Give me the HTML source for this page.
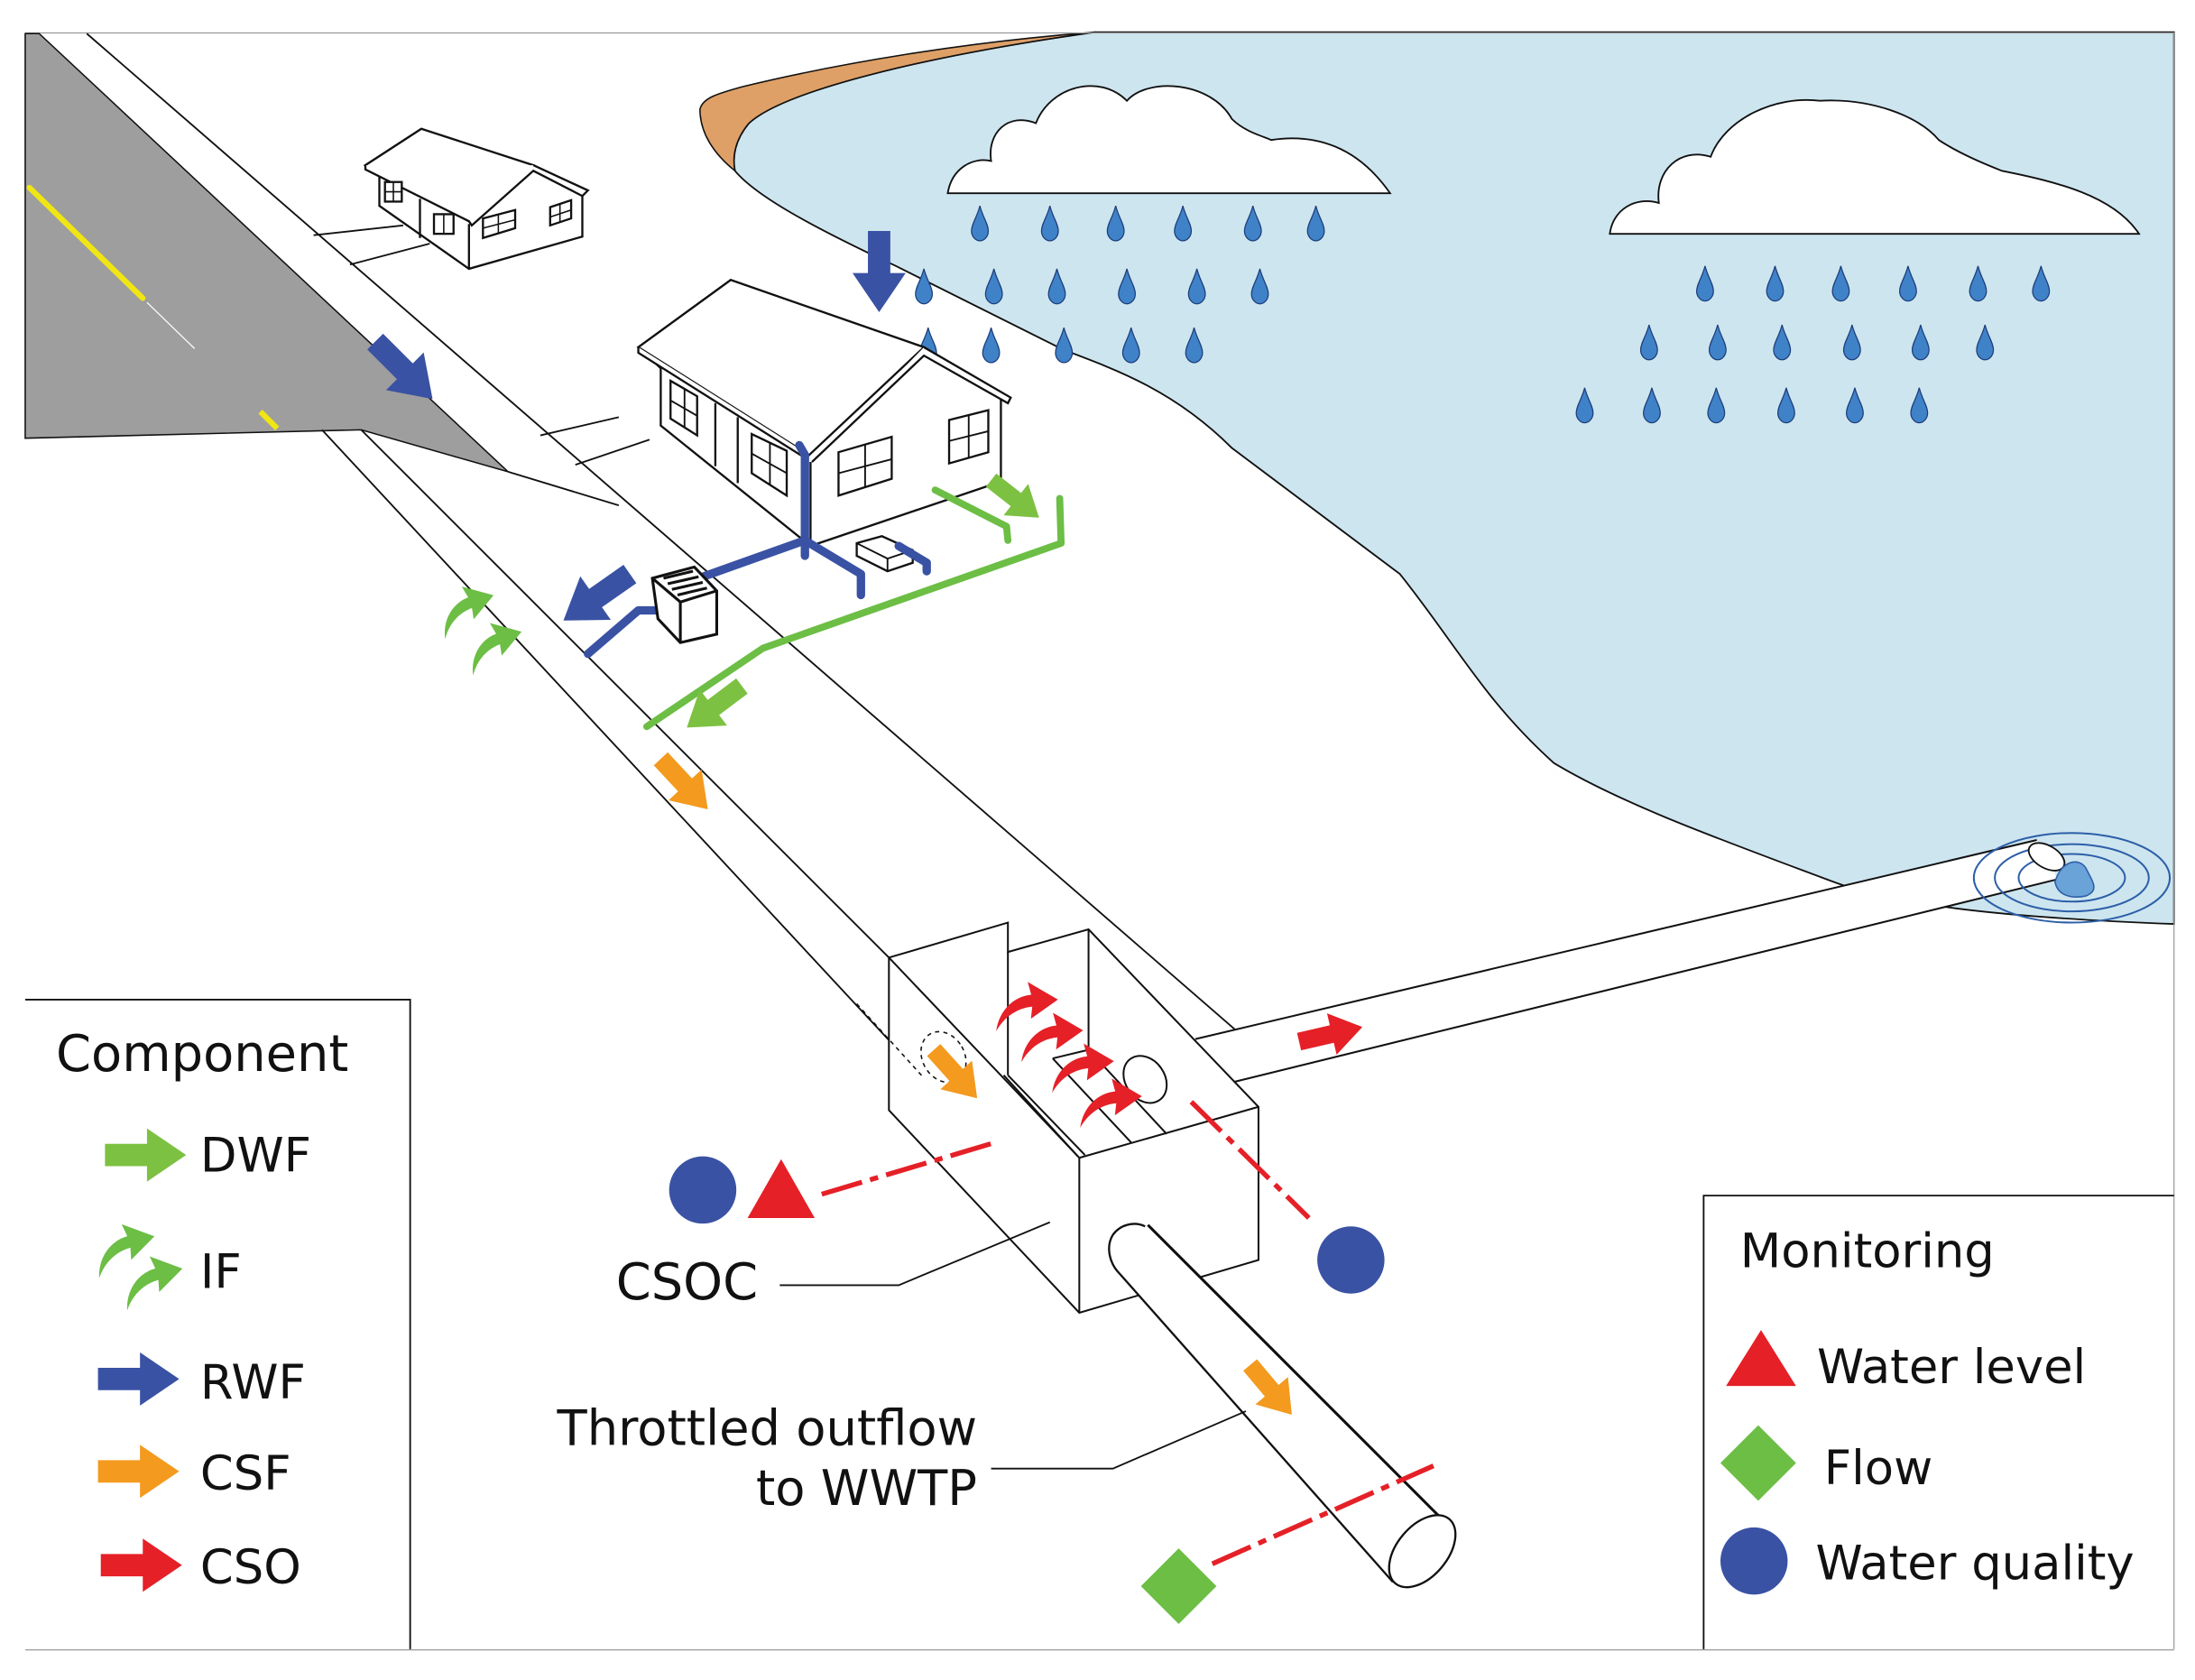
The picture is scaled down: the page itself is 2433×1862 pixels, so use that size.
<!DOCTYPE html>
<html><head><meta charset="utf-8"><style>
html,body{margin:0;padding:0;background:#fff;}
svg{display:block;}
text{font-family:"DejaVu Sans","Liberation Sans",sans-serif;fill:#111;}
</style></head><body>
<svg width="2433" height="1862" viewBox="0 0 1568 1200" xmlns="http://www.w3.org/2000/svg">
<defs>
<path id="arr" d="M0,-8 L30,-8 L30,-19 L58,0 L30,19 L30,8 L0,8 Z"/>
<path id="carr" d="M0,22 C4,4 18,-6 32,-6 L30,-17 L54,0 L30,14 L32,4 C20,4 8,10 0,22 Z"/>
<path id="drop" d="M0,-13 C-2,-5 -6,0 -6,5 C-6,9 -3,12 0,12 C3,12 6,9 6,5 C6,0 2,-5 0,-13 Z" fill="#3f82c8" stroke="#1d3d7a" stroke-width="0.8"/>
</defs>
<rect width="1568" height="1200" fill="#fff"/>
<!-- lake -->
<path d="M525,122 C540,140 580,162 640,190 L760,250 C800,265 840,280 880,320 L1000,410 C1040,460 1060,500 1110,545 C1160,575 1230,600 1310,630 C1350,645 1420,655 1553,660 L1553,23 L782,23 C660,40 560,65 535,88 C525,100 523,112 525,122 Z" fill="#cde5ef" stroke="#111" stroke-width="1.2"/>
<path d="M500,78 C502,70 512,67 530,62 C600,45 690,30 782,23 C660,40 560,65 535,88 C525,100 523,112 525,122 C510,110 500,95 500,78 Z" fill="#dea067" stroke="#111" stroke-width="1"/>
<!-- clouds -->
<path d="M677,138 C680,120 695,112 708,115 C705,95 720,80 740,88 C750,62 785,52 805,72 C820,55 865,58 880,85 C890,95 905,98 908,100 C940,95 970,105 993,138 Z" fill="#fff" stroke="#111" stroke-width="1.2"/>
<path d="M1150,167 C1152,150 1168,140 1185,145 C1182,122 1200,105 1222,112 C1232,85 1268,68 1300,72 C1335,70 1370,82 1385,100 C1400,110 1420,118 1430,122 C1470,130 1510,140 1528,167 Z" fill="#fff" stroke="#111" stroke-width="1.2"/>
<g>
<use href="#drop" x="700" y="160"/><use href="#drop" x="750" y="160"/><use href="#drop" x="797" y="160"/><use href="#drop" x="845" y="160"/><use href="#drop" x="895" y="160"/><use href="#drop" x="940" y="160"/>
<use href="#drop" x="660" y="205"/><use href="#drop" x="710" y="205"/><use href="#drop" x="755" y="205"/><use href="#drop" x="805" y="205"/><use href="#drop" x="855" y="205"/><use href="#drop" x="900" y="205"/>
<use href="#drop" x="615" y="247"/><use href="#drop" x="663" y="247"/><use href="#drop" x="708" y="247"/><use href="#drop" x="760" y="247"/><use href="#drop" x="808" y="247"/><use href="#drop" x="853" y="247"/>
<use href="#drop" x="1218" y="203"/><use href="#drop" x="1268" y="203"/><use href="#drop" x="1315" y="203"/><use href="#drop" x="1363" y="203"/><use href="#drop" x="1413" y="203"/><use href="#drop" x="1458" y="203"/>
<use href="#drop" x="1178" y="245"/><use href="#drop" x="1227" y="245"/><use href="#drop" x="1273" y="245"/><use href="#drop" x="1323" y="245"/><use href="#drop" x="1372" y="245"/><use href="#drop" x="1418" y="245"/>
<use href="#drop" x="1132" y="290"/><use href="#drop" x="1180" y="290"/><use href="#drop" x="1226" y="290"/><use href="#drop" x="1276" y="290"/><use href="#drop" x="1325" y="290"/><use href="#drop" x="1371" y="290"/>
</g>
<!-- frame -->
<line x1="18" y1="23.5" x2="1553" y2="23.5" stroke="#999" stroke-width="0.8"/>
<line x1="1553" y1="23" x2="1553" y2="1178" stroke="#999" stroke-width="0.8"/>
<line x1="18" y1="1178.5" x2="1553" y2="1178.5" stroke="#999" stroke-width="0.8"/>
<!-- road -->
<polygon points="18,24 28,24 363,337 258,307 18,313" fill="#9e9e9e" stroke="#111" stroke-width="1"/>
<line x1="21" y1="134" x2="102" y2="213" stroke="#f0e614" stroke-width="4" stroke-linecap="round"/>
<line x1="105" y1="216" x2="139" y2="249" stroke="#fff" stroke-width="0.8"/>
<line x1="186" y1="294" x2="198" y2="306" stroke="#f0e614" stroke-width="4"/>
<g stroke="#111" stroke-width="1.2" fill="none">
<line x1="62" y1="24" x2="883" y2="736"/>
<line x1="363" y1="337" x2="442" y2="361"/>
<line x1="230" y1="307" x2="635" y2="743"/>
<line x1="258" y1="307" x2="635" y2="684"/>
<line x1="224" y1="168" x2="288" y2="161"/><line x1="250" y1="189" x2="307" y2="174"/>
<line x1="386" y1="311" x2="442" y2="298"/><line x1="411" y1="332" x2="464" y2="314"/>
</g>
<!-- house 1 -->
<g stroke="#111" stroke-width="1.5" fill="#fff">
<polygon points="271,125 271,147 335,192 416,169 416,138 381,120 301,92 261,118"/>
<polygon points="261,118 301,92 381,118 335,158"/>
<polyline points="381,118 420,136 416,140 381,122 337,161 335,158 261,121 261,118" />
<line x1="335" y1="160" x2="335" y2="192"/>
<line x1="300" y1="142" x2="300" y2="170"/>
<rect x="275" y="130" width="12" height="14"/><rect x="310" y="153" width="14" height="14"/>
<polygon points="345,156 368,150 368,163 345,170"/><polygon points="393,148 408,143 408,156 393,161"/>
</g>
<g stroke="#111" stroke-width="1"><line x1="281" y1="130" x2="281" y2="144"/><line x1="275" y1="137" x2="287" y2="137"/><line x1="356" y1="153" x2="356" y2="167"/><line x1="345" y1="163" x2="368" y2="157"/><line x1="400" y1="146" x2="400" y2="159"/><line x1="393" y1="155" x2="408" y2="150"/><line x1="317" y1="153" x2="317" y2="167"/></g>
<!-- house 2 -->
<g stroke="#111" stroke-width="1.5" fill="#fff">
<polygon points="472,263 472,304 579,390 715,344 715,282 660,248 522,200 456,248"/>
<polygon points="456,248 522,200 660,248 578,325"/>
<polyline points="456,248 456,252 575,327 578,325"/>
<polyline points="660,248 722,284 720,288 660,254 580,330"/>
<line x1="579" y1="330" x2="579" y2="390"/>
<line x1="511" y1="288" x2="511" y2="333"/><line x1="527" y1="298" x2="527" y2="345"/>
<polygon points="479,272 498,283 498,311 479,299"/>
<polygon points="537,310 562,322 562,354 537,338"/>
<polygon points="599,323 637,312 637,342 599,354"/>
<polygon points="678,300 706,293 706,323 678,331"/>
<polygon points="612,388 612,397 634,408 652,402 652,393 630,383"/>
</g>
<g stroke="#111" stroke-width="1.2"><line x1="489" y1="278" x2="489" y2="305"/><line x1="479" y1="286" x2="498" y2="297"/><line x1="550" y1="316" x2="550" y2="346"/><line x1="537" y1="324" x2="562" y2="338"/><line x1="618" y1="318" x2="618" y2="348"/><line x1="599" y1="338" x2="637" y2="328"/><line x1="692" y1="296" x2="692" y2="327"/><line x1="678" y1="315" x2="706" y2="308"/><line x1="634" y1="408" x2="634" y2="399"/><line x1="612" y1="388" x2="634" y2="399"/><line x1="634" y1="399" x2="652" y2="393"/></g>
<!-- green pipes -->
<g stroke="#6cbe45" stroke-width="5" fill="none" stroke-linecap="round" stroke-linejoin="round">
<polyline points="462,519 545,463 758,388 757,356"/>
<polyline points="668,350 719,376 720,386"/>
</g>
<!-- blue pipes -->
<g stroke="#3a52a3" stroke-width="6" fill="none" stroke-linecap="round" stroke-linejoin="round">
<polyline points="571,318 575,325 575,397"/>
<polyline points="502,412 575,386 615,410 615,425"/>
<polyline points="642,390 662,402 662,408"/>
<polyline points="483,436 456,436 420,467"/>
</g>
<!-- gully box -->
<g stroke="#111" stroke-width="2" fill="#fff">
<polygon points="466,413 496,405 512,422 512,453 486,459 470,442"/>
<polyline points="466,413 486,430 512,422"/>
<line x1="486" y1="430" x2="486" y2="459"/>
<line x1="474" y1="413" x2="495" y2="408"/><line x1="477" y1="417" x2="499" y2="412"/><line x1="480" y1="421" x2="502" y2="416"/><line x1="484" y1="425" x2="505" y2="420"/>
</g>
<!-- CSOC box -->
<g stroke="#111" stroke-width="1.3" fill="#fff">
<polygon points="881.8,772.7 1470,628 1455,600 853.9,742.2" fill="#fff" stroke="none"/>
<line x1="853.9" y1="742.2" x2="1455" y2="600"/>
<line x1="881.8" y1="772.7" x2="1470" y2="628"/>
<polygon points="635,684 720,659 720,680 777.6,663.8 899,790.6 899,900 771,937.7 635,793"/>
<line x1="720" y1="680" x2="720" y2="768"/>
<line x1="777.6" y1="663.8" x2="777.6" y2="749.8"/>
<line x1="635" y1="684" x2="771" y2="827"/>
<line x1="771" y1="827" x2="899" y2="790.6"/>
<line x1="771" y1="827" x2="771" y2="937.7"/>
<line x1="717" y1="768" x2="770" y2="826"/>
<line x1="720" y1="768" x2="775" y2="825"/>
<line x1="777.6" y1="749.8" x2="833.4" y2="810"/>
<line x1="752" y1="756" x2="808" y2="816"/>
<line x1="752" y1="756" x2="777" y2="750"/>
<ellipse cx="818" cy="771" rx="14" ry="18" transform="rotate(-35 818 771)"/>
</g>
<line x1="612" y1="717" x2="660" y2="770" stroke="#111" stroke-width="1" stroke-dasharray="3,3"/>
<ellipse cx="674" cy="755" rx="15" ry="19" transform="rotate(-30 674 755)" fill="none" stroke="#111" stroke-width="1" stroke-dasharray="3,3"/>
<!-- outlet pipe -->
<g stroke="#111" stroke-width="1.5" fill="#fff">
<path d="M800,910 L995,1130 L1030,1085 L820,875 C805,870 795,880 792,890 C790,900 795,906 800,910 Z" stroke="none"/>
<path d="M800,910 C792,902 790,890 795,882 C800,875 810,872 818,876" fill="none"/>
<line x1="820" y1="875" x2="1030" y2="1085" stroke-width="2"/>
<line x1="800" y1="910" x2="995" y2="1130"/>
<ellipse cx="1016" cy="1108" rx="18" ry="30" transform="rotate(40 1016 1108)"/>
</g>
<!-- lake outlet ripples -->
<g fill="none" stroke="#2d5fa8" stroke-width="1.3">
<ellipse cx="1480" cy="627" rx="70" ry="32"/><ellipse cx="1480" cy="627" rx="55" ry="24"/><ellipse cx="1480" cy="627" rx="38" ry="17"/>
</g>
<ellipse cx="1462" cy="612" rx="8" ry="14" fill="#fff" stroke="#111" stroke-width="1.2" transform="rotate(-60 1462 612)"/>
<path d="M1468,630 C1472,615 1485,612 1490,620 C1495,630 1500,636 1490,640 C1480,642 1470,640 1468,630 Z" fill="#6aa3d8" stroke="#2d5fa8"/>
<!-- leaders -->
<polyline points="557,918 642,918 750,873" fill="none" stroke="#111" stroke-width="1.2"/>
<polyline points="708,1049 795,1049 890,1008" fill="none" stroke="#111" stroke-width="1.2"/>
<!-- red dashes -->
<g stroke="#e52027" stroke-width="3.5" fill="none" stroke-dasharray="30,6,6,6">
<line x1="587" y1="853" x2="711" y2="816"/>
<line x1="851" y1="787" x2="935" y2="870"/>
<line x1="866" y1="1117" x2="1024" y2="1047"/>
</g>
<!-- symbols -->
<circle cx="502" cy="850" r="24" fill="#3a52a3"/>
<polygon points="558,828 582,870 534,870" fill="#e52027"/>
<circle cx="965" cy="900" r="24" fill="#3a52a3"/>
<polygon points="842,1106 869,1133 842,1160 815,1133" fill="#6cbe45"/>
<!-- arrows -->
<use href="#arr" fill="#3a52a3" transform="translate(268,244) rotate(45)"/>
<use href="#arr" fill="#3a52a3" transform="translate(628,165) rotate(90)"/>
<use href="#arr" fill="#3a52a3" transform="translate(450,410) rotate(145)"/>
<use href="#arr" fill="#7dc142" transform="translate(708,343) rotate(38) scale(0.75)"/>
<use href="#arr" fill="#7dc142" transform="translate(530,490) rotate(143) scale(0.85)"/>
<use href="#carr" fill="#6cbe45" transform="translate(312,440) rotate(-20) scale(0.8)"/>
<use href="#carr" fill="#6cbe45" transform="translate(332,466) rotate(-20) scale(0.8)"/>
<use href="#arr" fill="#f39a1f" transform="translate(472,542) rotate(47) scale(0.85)"/>
<use href="#arr" fill="#f39a1f" transform="translate(667,750) rotate(48) scale(0.8)"/>
<use href="#arr" fill="#f39a1f" transform="translate(893,975) rotate(50) scale(0.8)"/>
<use href="#arr" fill="#e52027" transform="translate(928,744) rotate(-13) scale(0.8)"/>
<use href="#carr" fill="#e52027" transform="translate(710,718) rotate(-5) scale(0.85)"/>
<use href="#carr" fill="#e52027" transform="translate(728,740) rotate(-5) scale(0.85)"/>
<use href="#carr" fill="#e52027" transform="translate(750,762) rotate(-5) scale(0.85)"/>
<use href="#carr" fill="#e52027" transform="translate(770,787) rotate(-5) scale(0.85)"/>
<!-- labels -->
<text x="440" y="928" font-size="36">CSOC</text>
<text x="698" y="1032" font-size="35" text-anchor="end">Throttled outflow</text>
<text x="698" y="1075" font-size="35" text-anchor="end">to WWTP</text>
<!-- legend left -->
<polyline points="18,714 293,714 293,1178" fill="none" stroke="#111" stroke-width="1.2"/>
<text x="40" y="765" font-size="36">Component</text>
<use href="#arr" fill="#7dc142" transform="translate(75,825)"/>
<text x="143" y="837" font-size="34">DWF</text>
<use href="#carr" fill="#6cbe45" transform="translate(66,895) rotate(-15) scale(0.85)"/>
<use href="#carr" fill="#6cbe45" transform="translate(86,918) rotate(-15) scale(0.85)"/>
<text x="143" y="920" font-size="34">IF</text>
<use href="#arr" fill="#3a52a3" transform="translate(70,985)"/>
<text x="143" y="999" font-size="34">RWF</text>
<use href="#arr" fill="#f39a1f" transform="translate(70,1051)"/>
<text x="143" y="1064" font-size="34">CSF</text>
<use href="#arr" fill="#e52027" transform="translate(72,1118)"/>
<text x="143" y="1131" font-size="34">CSO</text>
<!-- legend right -->
<polyline points="1217,1178 1217,854 1553,854" fill="none" stroke="#111" stroke-width="1.2"/>
<text x="1243" y="905" font-size="34">Monitoring</text>
<polygon points="1258,950 1283,990 1233,990" fill="#e52027"/>
<text x="1298" y="988" font-size="34">Water level</text>
<polygon points="1256,1018 1283,1045 1256,1072 1229,1045" fill="#6cbe45"/>
<text x="1303" y="1060" font-size="34">Flow</text>
<circle cx="1253" cy="1115" r="24" fill="#3a52a3"/>
<text x="1297" y="1128" font-size="34">Water quality</text>
</svg>
</body></html>
